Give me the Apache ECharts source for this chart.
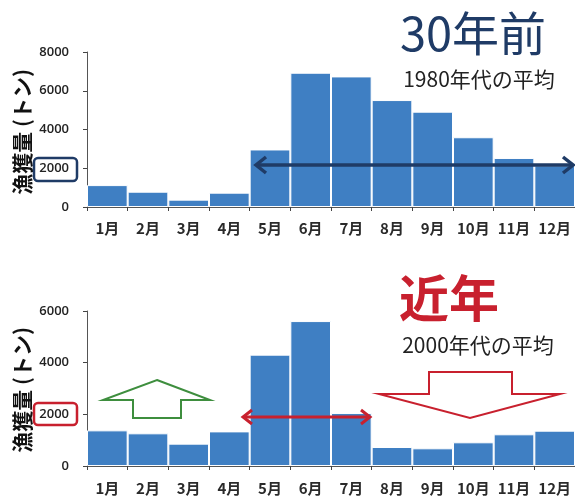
<!DOCTYPE html>
<html>
<head>
<meta charset="utf-8">
<script src="https://cdn.jsdelivr.net/npm/echarts@6/dist/echarts.min.js"></script>
<style>html,body{margin:0;padding:0;background:#fff;}#c{width:575px;height:497px;}</style>
</head>
<body>
<div id="c"></div>
<script>
var months = ['1月','2月','3月','4月','5月','6月','7月','8月','9月','10月','11月','12月'];
var catch1980s = [1130, 790, 380, 740, 2970, 6930, 6740, 5520, 4920, 3600, 2530, 2150];
var catch2000s = [1380, 1265, 865, 1340, 4310, 5610, 2050, 735, 685, 917, 1227, 1367];
var yTicksTop = [0, 2000, 4000, 6000, 8000];
var yTicksBottom = [0, 2000, 4000, 6000];

var FONT = '"Open Sans","Noto Sans CJK JP",sans-serif';
var CJK = '"Noto Sans CJK JP","Noto Sans",sans-serif';
var NAVY = '#1F3B66';
var RED = '#C8202E';
var GREEN = '#3E8E3E';
var BAR = '#3F7FC3';

function xAxisCfg(gi, margin) {
  return {
    type: 'category', gridIndex: gi, data: months,
    axisLine: {lineStyle: {color: '#555', width: 1}},
    axisTick: {show: true, alignWithLabel: false, length: 4, lineStyle: {color: '#444'}},
    axisLabel: {margin: margin, fontSize: 15, fontWeight: 'bold', color: '#2a2a2a', fontFamily: CJK, interval: 0}
  };
}
function yAxisCfg(gi, max) {
  return {
    type: 'value', gridIndex: gi, min: 0, max: max, interval: 2000,
    splitLine: {show: false},
    axisLine: {show: true, lineStyle: {color: '#555', width: 1}},
    axisTick: {show: true, length: 4, lineStyle: {color: '#444'}},
    axisLabel: {margin: 18, fontSize: 13, color: '#222', fontFamily: FONT, fontWeight: 600,
      formatter: function (v) { return String(v); }}
  };
}
function barSeries(i, data) {
  return {
    type: 'bar', xAxisIndex: i, yAxisIndex: i, data: data,
    barCategoryGap: '0%',
    itemStyle: {color: BAR, borderColor: '#ffffff', borderWidth: 1},
    silent: true
  };
}

var chart = echarts.init(document.getElementById('c'), null, {renderer: 'canvas'});
chart.setOption({
  animation: false,
  grid: [
    {left: 87, right: 0, top: 52, height: 155},
    {left: 87, right: 0, top: 311, height: 155}
  ],
  xAxis: [xAxisCfg(0, 14), xAxisCfg(1, 15)],
  yAxis: [yAxisCfg(0, yTicksTop[yTicksTop.length-1]), yAxisCfg(1, yTicksBottom[yTicksBottom.length-1])],
  series: [barSeries(0, catch1980s), barSeries(1, catch2000s)],
  graphic: {elements: [
    // y axis titles
    {type: 'text', z: 100, x: 22, y: 132, rotation: Math.PI/2, style: {text: '漁獲量 (トン)', font: 'bold 21px ' + CJK, fill: '#111', align: 'center', verticalAlign: 'middle'}},
    {type: 'text', z: 100, x: 22, y: 390, rotation: Math.PI/2, style: {text: '漁獲量 (トン)', font: 'bold 21px ' + CJK, fill: '#111', align: 'center', verticalAlign: 'middle'}},
    // boxes around 2000
    {type: 'rect', z: 100, shape: {x: 34, y: 158, width: 43, height: 23, r: 4}, style: {fill: 'none', stroke: NAVY, lineWidth: 2.5}},
    {type: 'rect', z: 100, shape: {x: 34, y: 403, width: 43, height: 22, r: 4}, style: {fill: 'none', stroke: RED, lineWidth: 2.5}},
    // titles
    {type: 'text', z: 100, x: 473, y: 33, style: {text: '30年前', font: '47px ' + CJK, fill: NAVY, align: 'center', verticalAlign: 'middle'}},
    {type: 'text', z: 100, x: 479, y: 79, style: {text: '1980年代の平均', font: '21px ' + CJK, fill: '#222', align: 'center', verticalAlign: 'middle'}},
    {type: 'text', z: 100, x: 449, y: 298, style: {text: '近年', font: 'bold 50px ' + CJK, fill: RED, align: 'center', verticalAlign: 'middle'}},
    {type: 'text', z: 100, x: 478, y: 345, style: {text: '2000年代の平均', font: '21px ' + CJK, fill: '#222', align: 'center', verticalAlign: 'middle'}},
    // navy double arrow
    {type: 'line', z: 100, shape: {x1: 256, y1: 165, x2: 572, y2: 165}, style: {stroke: NAVY, lineWidth: 3.5}},
    {type: 'polyline', z: 100, shape: {points: [[266, 157], [256, 165], [266, 173]]}, style: {stroke: NAVY, lineWidth: 3.5, fill: null}},
    {type: 'polyline', z: 100, shape: {points: [[563, 157], [573, 165], [563, 173]]}, style: {stroke: NAVY, lineWidth: 3.5, fill: null}},
    // red double arrow
    {type: 'line', z: 100, shape: {x1: 243, y1: 417, x2: 370, y2: 417}, style: {stroke: RED, lineWidth: 3}},
    {type: 'polyline', z: 100, shape: {points: [[252, 410], [243, 417], [252, 424]]}, style: {stroke: RED, lineWidth: 3, fill: null}},
    {type: 'polyline', z: 100, shape: {points: [[361, 410], [370, 417], [361, 424]]}, style: {stroke: RED, lineWidth: 3, fill: null}},
    // green up outline arrow
    {type: 'polygon', z: 100, shape: {points: [[157, 380], [210, 400], [181, 400], [181, 418], [133, 418], [133, 400], [103, 400]]}, style: {fill: 'none', stroke: GREEN, lineWidth: 2}},
    // red down outline arrow
    {type: 'polygon', z: 100, shape: {points: [[429, 372], [512, 372], [512, 394], [560, 394], [470, 418], [379, 394], [429, 394]]}, style: {fill: 'none', stroke: RED, lineWidth: 2}}
  ]}
});
</script>
</body>
</html>
